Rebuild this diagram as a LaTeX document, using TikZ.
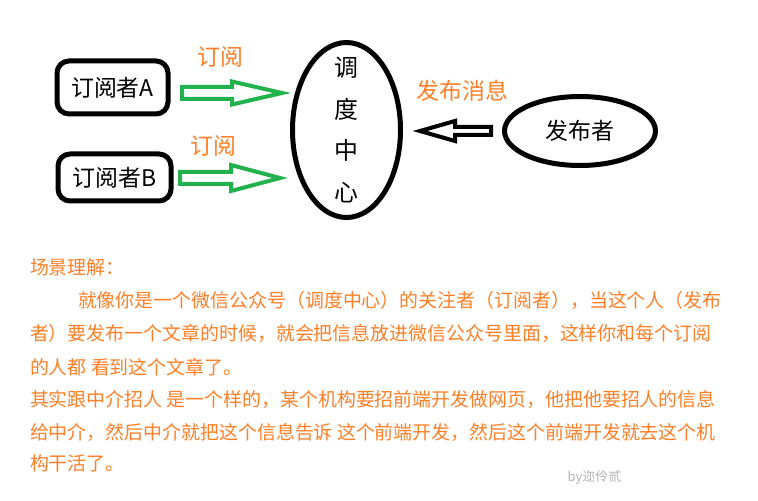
\documentclass[tikz,border=0pt]{standalone}
\usepackage{fontspec}
\setmainfont{Noto Sans CJK SC}
\usetikzlibrary{calc,shapes.geometric}
\definecolor{paintgreen}{HTML}{22B14C}
\definecolor{paintorange}{HTML}{FF7F27}
\definecolor{stampgray}{HTML}{B4B4B4}
\newcommand{\bodyfont}{\fontsize{19}{19}\selectfont}
\newcommand{\bigfont}{\fontsize{23}{23}\selectfont}
\newcommand{\stackfont}{\fontsize{24}{41.7}\selectfont}
\newcommand{\stampfont}{\fontsize{13}{13}\selectfont}
% #1 style, #2 tail, #3 head base, #4 tip, #5 shaft half width, #6 head half width
\newcommand{\hollowarrow}[6]{%
  \draw[#1] let \p1=(#2),\p2=(#3),\p3=(#4) in
    (\x1,\y3+#5) -- (\x2,\y3+#5) -- (\x2,\y3+#6) -- (\p3)
    -- (\x2,\y3-#6) -- (\x2,\y3-#5) -- (\x1,\y3-#5) -- cycle;}
\tikzset{
  every node/.style={font=\bigfont,text=black,inner sep=0pt,outer sep=0pt},
  subbox/.style={draw,line width=5bp,rounded corners=12bp},
  oval/.style={draw,ellipse,line width=5bp},
  hollow/.style={line width=4bp,line join=miter},
  tag/.style={text=paintorange},
  body/.style={font=\bodyfont,text=paintorange,anchor=west}
}
\begin{document}
\begin{tikzpicture}[x=1bp,y=-1bp]

\path[use as bounding box] (0,0) rectangle (758,501);
% Subscribers on the left, hub in the middle, publisher on the right.
\node[subbox,minimum width=111bp,minimum height=53bp] (subA) at (112.5,87.5) {订阅者A};
\node[subbox,minimum width=113bp,minimum height=47bp] (subB) at (114.5,177.5) {订阅者B};
\node[oval,minimum width=108bp,minimum height=175bp] (hub) at (346.5,130) {};
\node[font=\stackfont,align=center] (hubtext) at (hub.center) {调\\度\\中\\心};
\node[oval,minimum width=151bp,minimum height=69bp] (pub) at (580,131) {发布者};

\coordinate (aTail) at (182,93);
\coordinate (aBase) at (232,93);
\coordinate (aTip) at (282,93);
\coordinate (bTail) at (180,178);
\coordinate (bBase) at (231,178);
\coordinate (bTip) at (280,178);
\coordinate (pTail) at (491,131);
\coordinate (pBase) at (455,131);
\coordinate (pTip) at (420,131);
\hollowarrow{hollow,paintgreen}{aTail}{aBase}{aTip}{6bp}{11.5bp}
\hollowarrow{hollow,paintgreen}{bTail}{bBase}{bTip}{6bp}{13bp}
\hollowarrow{hollow,black}{pTail}{pBase}{pTip}{4bp}{10bp}

\node[tag] (tagA) at (220,57) {订阅};
\node[tag] (tagB) at (213,146) {订阅};
\node[tag] (tagP) at (462.5,91) {发布消息};

% Explanation text, one node per printed line.
\node[body] (lineA) at (30,267) {场景理解：};
\node[body] (lineB) at (78,300) {就像你是一个微信公众号（调度中心）的关注者（订阅者），当这个人（发布};
\node[body] (lineC) at (30,333) {者）要发布一个文章的时候，就会把信息放进微信公众号里面，这样你和每个订阅};
\node[body] (lineD) at (30,367) {的人都 看到这个文章了。};
\node[body] (lineE) at (30,399) {其实跟中介招人 是一个样的，某个机构要招前端开发做网页，他把他要招人的信息};
\node[body] (lineF) at (30,432) {给中介，然后中介就把这个信息告诉 这个前端开发，然后这个前端开发就去这个机};
\node[body] (lineG) at (30,463) {构干活了。};
\node[font=\stampfont,text=stampgray] (stamp) at (594.5,478) {by迩伶贰};
\end{tikzpicture}
\end{document}
